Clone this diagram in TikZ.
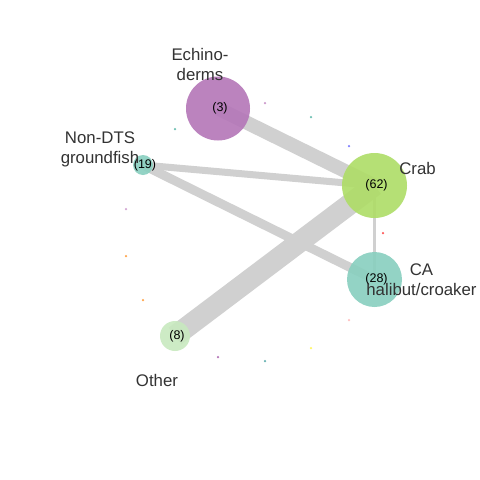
\documentclass[tikz,border=0pt]{standalone}
\usepackage{fontspec}
\setmainfont{Liberation Sans}
\usepackage{xcolor}
\usetikzlibrary{backgrounds}
\definecolor{NWPurple}{HTML}{B476B8}
\definecolor{NWLime}{HTML}{AEDD66}
\definecolor{NWTeal}{HTML}{88CFBF}
\definecolor{NWPale}{HTML}{C8E9BF}
\definecolor{NWEdge}{HTML}{D0D0D0}
\definecolor{NWText}{HTML}{333333}

\begin{document}
\begin{tikzpicture}[x=1pt,y=-1pt,
  spp/.style={circle,inner sep=0pt,fill opacity=.9},
  link/.style={draw=NWEdge,line cap=butt},
  cnt/.style={font=\fontsize{12.5}{14}\selectfont,inner sep=0pt,xshift=2pt},
  lab/.style={font=\fontsize{16.8}{20}\selectfont,text=NWText,align=center,inner sep=0pt},
  tiny/.style={circle,inner sep=0pt,minimum size=2.5pt}]
% species groups
\node[spp,fill=NWPurple,minimum size=64pt] (echino) at (218,108.5) {};
\node[spp,fill=NWTeal,minimum size=20pt] (ndts) at (143,165) {};
\node[spp,fill=NWLime,minimum size=65pt] (crab) at (374.5,185.5) {};
\node[spp,fill=NWTeal,minimum size=55pt] (cahal) at (374.5,279.5) {};
\node[spp,fill=NWPale,minimum size=30pt] (other) at (175,336) {};
% links
\begin{scope}[on background layer]
\fill[white] (0,0) rectangle (480,480);
\draw[link,line width=21pt] (other.center) -- (crab.center);
\draw[link,line width=14pt] (echino.center) -- (crab.center);
\draw[link,line width=7pt] (ndts.center) -- (crab.center);
\draw[link,line width=9pt] (ndts.center) -- (cahal.center);
\draw[link,line width=3pt] (crab.center) -- (cahal.center);
\end{scope}
% counts
\node[cnt] (echinoN) at (echino) {(3)};
\node[cnt] (ndtsN) at (ndts) {(19)};
\node[cnt] (crabN) at (crab) {(62)};
\node[cnt] (cahalN) at (cahal) {(28)};
\node[cnt] (otherN) at (other) {(8)};
% names
\node[lab,anchor=north] (echinoL) at (200,48.5) {Echino-\\derms};
\node[lab,anchor=north] (ndtsL) at (100,131.5) {Non-DTS\\groundfish};
\node[lab,anchor=base] (crabL) at (417.5,174) {Crab};
\node[lab,anchor=north] (cahalL) at (421.5,263.5) {CA\\halibut/croaker};
\node[lab,anchor=base] (otherL) at (157,386) {Other};
% groups without links
\node[tiny,fill=violet!40] (d1) at (265,103) {};
\node[tiny,fill=NWTeal!80!teal] (d2) at (311,117) {};
\node[tiny,fill=blue!50] (d3) at (349,146) {};
\node[tiny,fill=NWTeal!80!teal] (d4) at (175,129) {};
\node[tiny,fill=violet!35] (d5) at (126,209) {};
\node[tiny,fill=orange!70] (d6) at (126,256) {};
\node[tiny,fill=orange!70] (d7) at (143,300) {};
\node[tiny,fill=red!65] (d8) at (383,233) {};
\node[tiny,fill=pink] (d9) at (349,320) {};
\node[tiny,fill=yellow!60] (d10) at (311,348) {};
\node[tiny,fill=NWPurple] (d11) at (218,357) {};
\node[tiny,fill=teal!60] (d12) at (265,361) {};
\end{tikzpicture}
\end{document}
